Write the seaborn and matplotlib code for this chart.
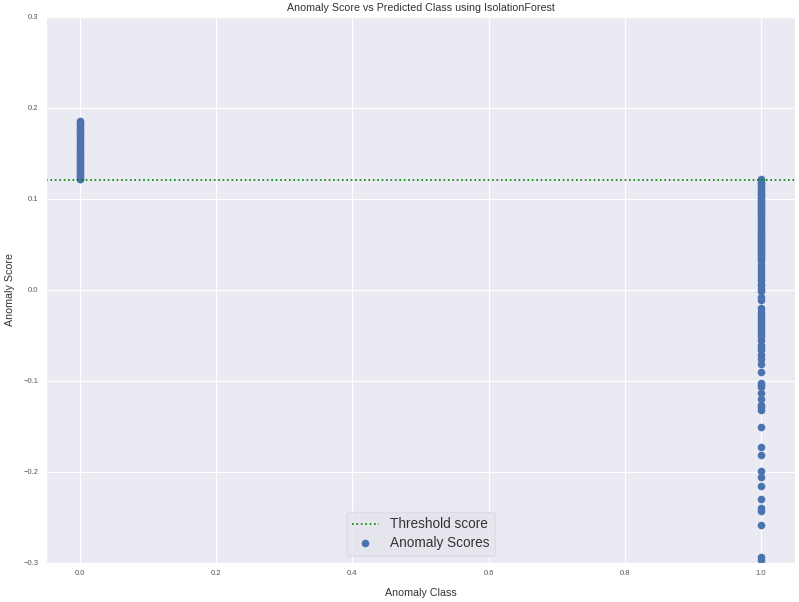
import matplotlib
matplotlib.use("Agg")
import matplotlib.pyplot as plt
import seaborn as sns
import pandas as pd

# anomaly scores, grouped by predicted class
normal_scores = [0.186, 0.184, 0.182, 0.180, 0.178, 0.176, 0.174, 0.172, 0.170,
                 0.168, 0.166, 0.164, 0.162, 0.160, 0.158, 0.156, 0.154, 0.152,
                 0.150, 0.148, 0.146, 0.144, 0.142, 0.140, 0.138, 0.136, 0.134,
                 0.132, 0.130, 0.128, 0.126, 0.124, 0.122, 0.1215]
anomaly_scores = [0.1215, 0.120, 0.118, 0.116, 0.114, 0.112, 0.110, 0.108, 0.106,
                  0.104, 0.102, 0.100, 0.098, 0.096, 0.094, 0.092, 0.090, 0.088,
                  0.086, 0.084, 0.082, 0.080, 0.078, 0.076, 0.074, 0.072, 0.070,
                  0.068, 0.066, 0.064, 0.062, 0.060, 0.058, 0.056, 0.054, 0.052,
                  0.050, 0.048, 0.046, 0.044, 0.042, 0.040, 0.038, 0.036, 0.034,
                  0.032, 0.027, 0.024, 0.021, 0.018, 0.014, 0.011, 0.007, 0.004,
                  0.001, -0.001, -0.008, -0.011, -0.020, -0.024, -0.027, -0.030,
                  -0.033, -0.036, -0.039, -0.042, -0.045, -0.048, -0.051, -0.055,
                  -0.060, -0.063, -0.066, -0.071, -0.076, -0.081, -0.090, -0.102,
                  -0.104, -0.107, -0.113, -0.120, -0.126, -0.129, -0.132, -0.151,
                  -0.172, -0.181, -0.199, -0.206, -0.215, -0.230, -0.240, -0.243,
                  -0.258, -0.293, -0.297]
threshold = 0.1213

df = pd.DataFrame({
    "anomaly_class": [0] * len(normal_scores) + [1] * len(anomaly_scores),
    "score": normal_scores + anomaly_scores,
})

sns.set_style("darkgrid")
plt.rcParams["font.family"] = ["Liberation Sans", "DejaVu Sans"]

fig = plt.figure(figsize=(7.99, 6.02), dpi=100)
ax = fig.add_axes([0.0576, 0.0648, 0.9374, 0.907])

ax.axhline(threshold, color="green", linestyle=":", linewidth=1.2, label="Threshold score")
sns.scatterplot(data=df, x="anomaly_class", y="score", ax=ax, color="#4C72B0",
                s=30, linewidth=0, label="Anomaly Scores")

ax.set_xlim(-0.05, 1.05)
ax.set_ylim(-0.3, 0.3)
ax.set_xticks([0.0, 0.2, 0.4, 0.6, 0.8, 1.0])
ax.set_yticks([-0.3, -0.2, -0.1, 0.0, 0.1, 0.2, 0.3])
ax.tick_params(axis="x", labelsize=5.5, colors="#555555", pad=1.5)
ax.tick_params(axis="y", labelsize=5.5, colors="#555555", pad=2)

ax.set_title("Anomaly Score vs Predicted Class using IsolationForest", fontsize=7.7,
             color="#333333", pad=4)
ax.set_xlabel("Anomaly Class", fontsize=7.7, color="#333333", labelpad=8)
ax.set_ylabel("Anomaly Score", fontsize=7.7, color="#333333")
ax.yaxis.set_label_coords(-0.041, 0.5)

leg = ax.legend(loc="lower center", fontsize=9.8, frameon=True, facecolor="#E4E4EC",
                edgecolor="#DADAE2", framealpha=0.8, borderaxespad=0.55,
                labelspacing=0.35)
for t in leg.get_texts():
    t.set_color("#333333")

fig.savefig("out.png", dpi=100)
